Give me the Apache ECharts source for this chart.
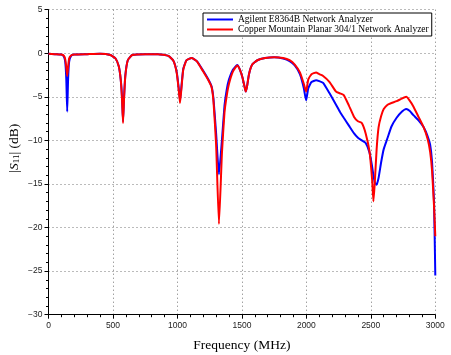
<!DOCTYPE html>
<html>
<head>
<meta charset="utf-8">
<script src="https://cdn.jsdelivr.net/npm/echarts@6/dist/echarts.min.js"></script>
<style>html,body{margin:0;padding:0;background:#fff;}#c{width:451px;height:355px;}</style>
</head>
<body>
<div id="c"></div>
<script>
const freq = [0,50,100,120,130,138,145,152,160,175,200,300,400,480,520,545,560,570,578,586,596,615,650,750,850,930,970,995,1010,1020,1030,1045,1070,1110,1150,1200,1240,1265,1280,1300,1322,1345,1365,1382,1400,1430,1464,1485,1505,1520,1530,1540,1555,1580,1620,1680,1750,1820,1870,1910,1950,1980,1998,2015,2040,2075,2100,2130,2180,2230,2260,2290,2330,2370,2400,2430,2460,2490,2510,2520,2530,2545,2560,2580,2600,2630,2660,2700,2740,2775,2800,2830,2870,2910,2940,2960,2975,2990,3000];
const agilentDb = [-0.05,-0.1,-0.15,-0.4,-1.0,-3.0,-6.7,-3.0,-1.0,-0.3,-0.15,-0.1,-0.05,-0.2,-0.6,-1.5,-3.0,-5.0,-7.8,-5.0,-2.5,-0.8,-0.2,-0.1,-0.1,-0.3,-0.9,-2.2,-4.0,-5.4,-4.0,-1.8,-0.8,-0.55,-0.9,-2.0,-3.0,-3.8,-5.3,-9.2,-13.9,-10.0,-6.0,-4.2,-3.0,-1.9,-1.35,-1.9,-2.8,-3.8,-4.4,-3.8,-2.4,-1.3,-0.8,-0.55,-0.45,-0.6,-0.9,-1.4,-2.4,-4.0,-5.4,-4.0,-3.3,-3.1,-3.2,-3.4,-4.6,-5.9,-6.7,-7.4,-8.3,-9.2,-9.7,-10.0,-10.3,-11.4,-13.0,-14.0,-14.8,-15.1,-14.3,-12.5,-11.0,-9.7,-8.4,-7.4,-6.7,-6.4,-6.6,-7.1,-7.7,-8.5,-9.5,-10.5,-12.5,-17.0,-25.5];
const copperDb = [-0.05,-0.1,-0.15,-0.3,-0.7,-1.6,-2.6,-1.6,-0.6,-0.25,-0.15,-0.1,-0.05,-0.2,-0.6,-1.5,-3.0,-5.2,-8.0,-5.2,-2.6,-0.8,-0.2,-0.1,-0.1,-0.3,-0.9,-2.3,-4.2,-5.7,-4.2,-1.9,-0.8,-0.55,-0.9,-2.1,-3.1,-3.9,-5.6,-10.5,-19.6,-11.5,-6.8,-4.9,-3.5,-2.1,-1.4,-1.9,-2.8,-3.8,-4.4,-3.8,-2.4,-1.3,-0.8,-0.55,-0.45,-0.55,-0.8,-1.3,-2.2,-3.5,-4.4,-3.0,-2.4,-2.2,-2.4,-2.6,-3.3,-4.4,-4.6,-4.8,-6.0,-7.3,-7.8,-8.0,-9.2,-11.3,-14.5,-17.0,-15.0,-11.0,-8.5,-7.2,-6.4,-5.9,-5.7,-5.5,-5.2,-5.0,-5.4,-6.1,-7.3,-8.5,-9.8,-11.3,-13.5,-17.5,-21.0];
const seriesNames = ['Agilent E8364B Network Analyzer','Copper Mountain Planar 304/1 Network Analyzer'];
const xTicks = {min:0, max:3000, interval:500};
const yTicks = {min:-30, max:5, interval:5};

const pairs = (ys) => freq.map((f,i)=>[f, ys[i]]);
const fmt = v => String(v).replace('-', '\u2212');
const chart = echarts.init(document.getElementById('c'), null, {renderer:'canvas'});
const labelFont = {fontFamily:'Liberation Sans, Arial, sans-serif', fontSize:8.5, color:'#222'};
const serif = 'Liberation Serif, serif';
chart.setOption({
  animation:false,
  backgroundColor:'#fff',
  grid:{left:48.5, right:15.7, top:9.7, bottom:40.3, containLabel:false, outerBoundsMode:'none'},
  legend:{
    orient:'vertical', left:203, top:13, padding:[1.5,3,1.5,4], itemGap:0,
    itemWidth:26, itemHeight:2, icon:'rect',
    backgroundColor:'#fff', borderColor:'#000', borderWidth:1,
    textStyle:{fontFamily:serif, fontSize:9.5, lineHeight:9.5, color:'#000'},
    data:seriesNames
  },
  xAxis:{
    type:'value', min:xTicks.min, max:xTicks.max, interval:xTicks.interval,
    name:'Frequency (MHz)', nameLocation:'middle', nameGap:24, nameMoveOverlap:false,
    nameTextStyle:{fontFamily:serif, fontSize:13.5, color:'#000'},
    axisLine:{show:true, onZero:false, lineStyle:{color:'#000', width:1}},
    axisTick:{show:true, inside:false, length:4, lineStyle:{color:'#000'}},
    minorTick:{show:true, splitNumber:5, length:2.5, lineStyle:{color:'#000'}},
    axisLabel:Object.assign({margin:6, formatter:fmt}, labelFont),
    splitLine:{show:true, lineStyle:{type:[1,3], color:'#777', width:1}}
  },
  yAxis:{
    type:'value', min:yTicks.min, max:yTicks.max, interval:yTicks.interval,
    name:'{a||}{s|S}{b|11}{a|| (dB)}', nameLocation:'middle', nameGap:27, nameMoveOverlap:false,
    nameTextStyle:{fontFamily:serif, fontSize:13.5, color:'#000', padding:[0,0,0,28],
      rich:{a:{fontFamily:serif, fontSize:13.5, color:'#000'},
            s:{fontFamily:serif, fontSize:13.5, fontStyle:'italic', color:'#000'},
            b:{fontFamily:serif, fontSize:9, color:'#000', verticalAlign:'bottom', padding:[6,0,0,0]}}},
    axisLine:{show:true, onZero:false, lineStyle:{color:'#000', width:1}},
    axisTick:{show:true, inside:false, length:4, lineStyle:{color:'#000'}},
    minorTick:{show:true, splitNumber:5, length:2.5, lineStyle:{color:'#000'}},
    axisLabel:Object.assign({margin:6, formatter:fmt}, labelFont),
    splitLine:{show:true, lineStyle:{type:[1,3], color:'#777', width:1}}
  },
  series:[
    {name:seriesNames[0], type:'line', data:pairs(agilentDb), symbol:'none', smooth:0.15,
     color:'#0000ff', lineStyle:{color:'#0000ff', width:2}, z:2},
    {name:seriesNames[1], type:'line', data:pairs(copperDb), symbol:'none', smooth:0.15,
     color:'#ff0000', lineStyle:{color:'#ff0000', width:2}, z:3}
  ]
});
</script>
</body>
</html>
